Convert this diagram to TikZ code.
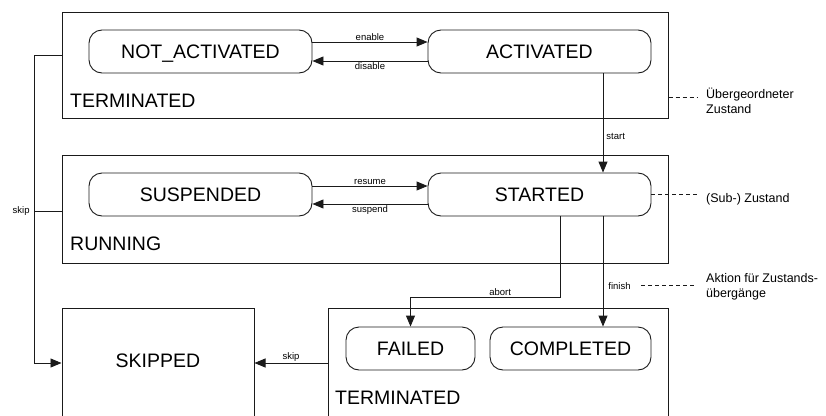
\documentclass[tikz,border=0pt]{standalone}
\usepackage{fontspec}
\setmainfont{Liberation Sans}
\usetikzlibrary{arrows.meta,calc}
\definecolor{ink}{HTML}{1A1A1A}
\begin{document}
\begin{tikzpicture}[x=1pt,y=-1pt,
  big/.style={font=\fontsize{19.5}{23}\selectfont, text height=14pt, text depth=0pt},
  small/.style={font=\fontsize{9.5}{11}\selectfont, inner sep=1pt},
  note/.style={font=\fontsize{12.5}{15}\selectfont, align=left, inner sep=0pt},
  superstate/.style={draw=ink, line width=1pt, rectangle, inner sep=0pt},
  substate/.style={draw=ink, line width=0.9pt, rounded corners=13pt, minimum height=43pt, inner sep=0pt, big},
  trans/.style={draw=ink, line width=0.9pt, -{Triangle[length=11pt,width=9pt]}},
  link/.style={draw=ink, line width=0.9pt},
  hint/.style={draw=ink, line width=0.8pt, dash pattern=on 4pt off 3pt}]
\useasboundingbox (0,0) rectangle (826,415);
\clip (0,0) rectangle (826,415);

% composite states
\node[superstate, minimum width=606pt, minimum height=106pt] (termtop) at (365,65) {};
\node[superstate, minimum width=606pt, minimum height=108pt] (running) at (365,209) {};
\node[superstate, minimum width=192pt, minimum height=122pt] (skipped) at (158,369) {};
\node[superstate, minimum width=340pt, minimum height=122pt] (termbot) at (498,369) {};

\node[big, inner sep=0pt, anchor=west] (termtoplbl) at (70,100) {TERMINATED};
\node[big, inner sep=0pt, anchor=west] (runninglbl) at (70,243.5) {RUNNING};
\node[big, inner sep=0pt] (skippedlbl) at (158,360.5) {SKIPPED};
\node[big, inner sep=0pt, anchor=west] (termbotlbl) at (335,397.5) {TERMINATED};

% sub states
\node[substate, minimum width=223pt] (notact) at (200.5,51.5) {NOT\_ACTIVATED};
\node[substate, minimum width=223pt] (act) at (539.5,51.5) {ACTIVATED};
\node[substate, minimum width=223pt] (susp) at (200.5,194.5) {SUSPENDED};
\node[substate, minimum width=223pt] (started) at (539.5,194.5) {STARTED};
\node[substate, minimum width=129pt] (failed) at (410.5,348.5) {FAILED};
\node[substate, minimum width=161pt] (completed) at (570.5,348.5) {COMPLETED};

% transitions
\draw[trans] ([yshift=9.5pt]notact.east) -- ([yshift=9.5pt]act.west) node[small, midway, above] {enable};
\draw[trans] ([yshift=-9.5pt]act.west) -- ([yshift=-9.5pt]notact.east) node[small, midway, below] {disable};
\draw[trans] ([yshift=8.5pt]susp.east) -- ([yshift=8.5pt]started.west) node[small, midway, above] {resume};
\draw[trans] ([yshift=-9.5pt]started.west) -- ([yshift=-9.5pt]susp.east) node[small, midway, below] {suspend};
\draw[trans] ([xshift=63.5pt]act.south) -- ([xshift=63.5pt]started.north) node[small, pos=0.64, right, xshift=2pt] {start};
\draw[trans] ([xshift=20.5pt]started.south) -- ++(0,81) -| (failed.north) node[small, pos=0.2, above] {abort};
\draw[trans] ([xshift=63.5pt]started.south) -- ([xshift=32.5pt]completed.north) node[small, pos=0.63, right, xshift=4pt] (finishlbl) {finish};

% skip transitions
\coordinate (bus) at (34,211);
\draw[link] ([yshift=10pt]termtop.west) -| (bus);
\draw[link] ([yshift=-2pt]running.west) -- (bus) node[small, left, xshift=-3pt] {skip};
\draw[trans] (bus) |- ([yshift=6pt]skipped.west);
\draw[trans] ([yshift=6pt]termbot.west) -- ([yshift=6pt]skipped.east) node[small, midway, above] {skip};

% legend
\node[note, anchor=north west] (uebernote) at (706,88) {Übergeordneter\\Zustand};
\coordinate (uebertip) at (698,97);
\draw[hint] (termtop.east |- uebertip) -- (uebertip);

\node[note, anchor=west] (subnote) at (706,199) {(Sub-) Zustand};
\coordinate (subtip) at (698,194.5);
\draw[hint] (started.east) -- (subtip);

\node[note, anchor=north west] (aktnote) at (706,273) {Aktion für Zustands-\\übergänge};
\coordinate (akttip) at (697,0);
\draw[hint] ([xshift=9pt]finishlbl.east) -- (finishlbl.east -| akttip);
\end{tikzpicture}
\end{document}
